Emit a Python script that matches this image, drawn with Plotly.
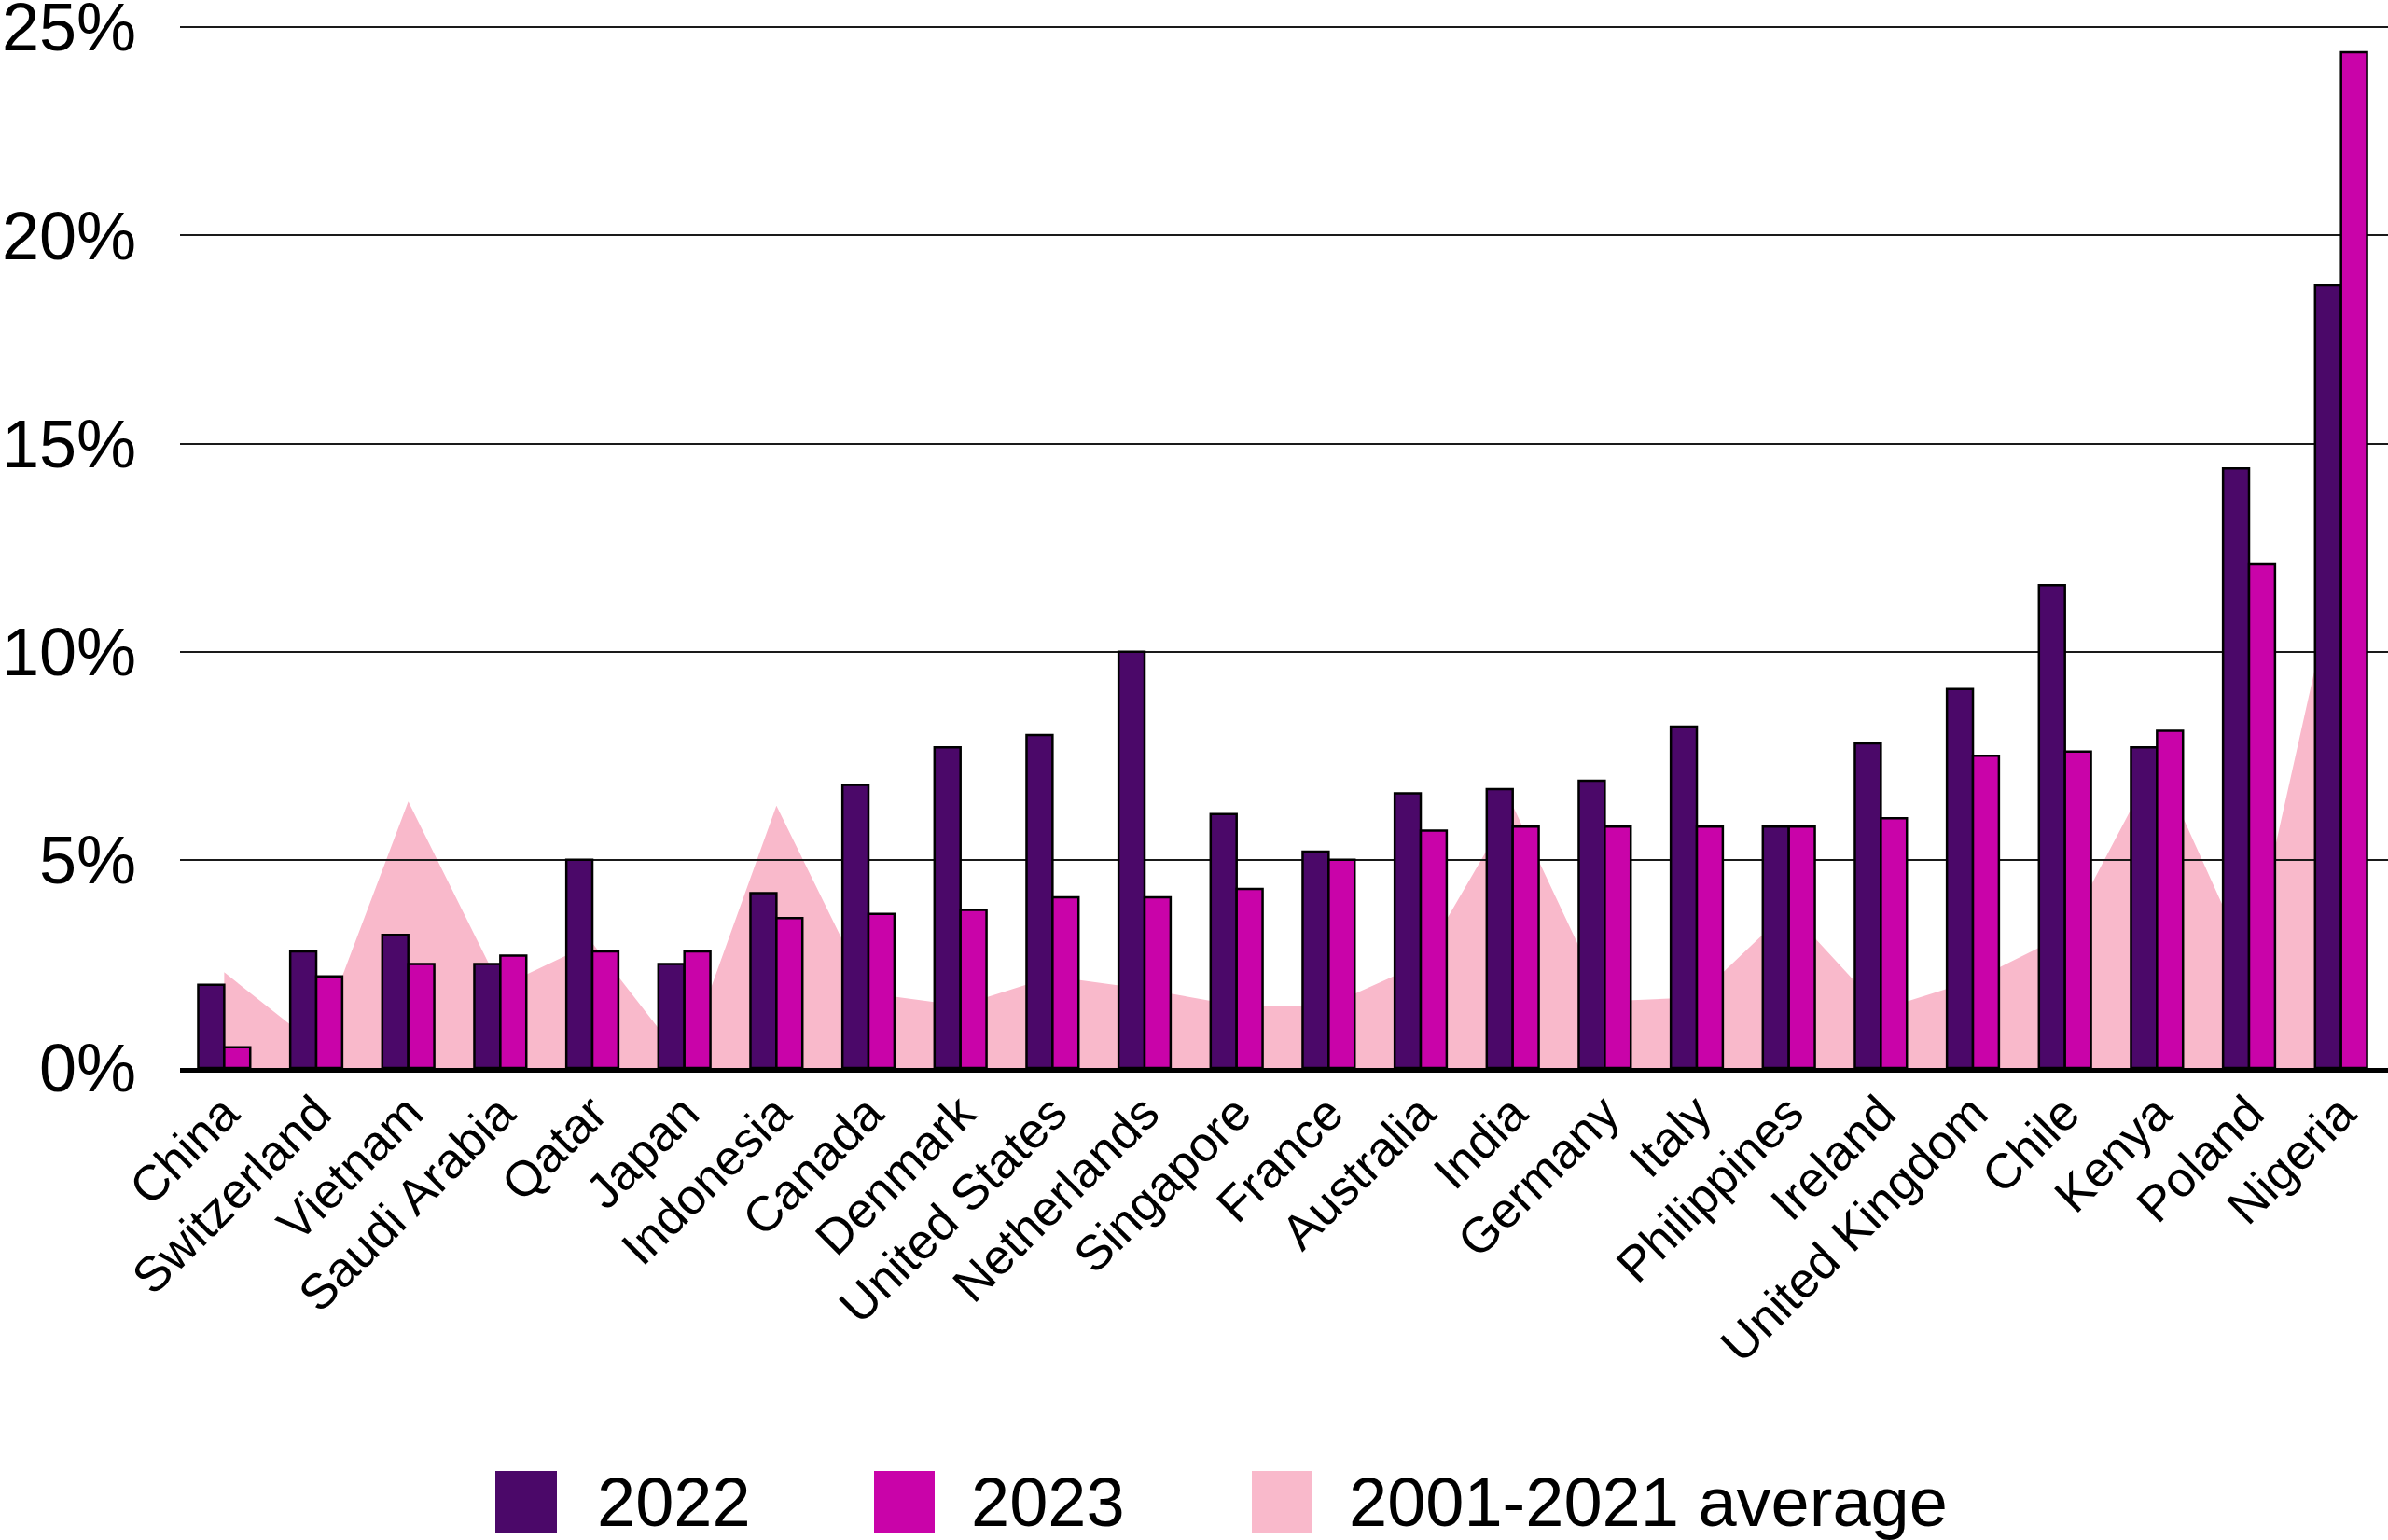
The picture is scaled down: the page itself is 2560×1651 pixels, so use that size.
import plotly.graph_objects as go

# ---------------- data ----------------
countries = ["China", "Switzerland", "Vietnam", "Saudi Arabia", "Qatar", "Japan",
             "Indonesia", "Canada", "Denmark", "United States", "Netherlands",
             "Singapore", "France", "Australia", "India", "Germany", "Italy",
             "Philippines", "Ireland", "United Kingdom", "Chile", "Kenya",
             "Poland", "Nigeria"]
rate_2022 = [2.0, 2.8, 3.2, 2.5, 5.0, 2.5, 4.2, 6.8, 7.7, 8.0, 10.0, 6.1,
             5.2, 6.6, 6.7, 6.9, 8.2, 5.8, 7.8, 9.1, 11.6, 7.7, 14.4, 18.8]
rate_2023 = [0.5, 2.2, 2.5, 2.7, 2.8, 2.8, 3.6, 3.7, 3.8, 4.1, 4.1, 4.3,
             5.0, 5.7, 5.8, 5.8, 5.8, 5.8, 6.0, 7.5, 7.6, 8.1, 12.1, 24.4]
avg_2001_2021 = [2.3, 0.55, 6.4, 1.95, 3.0, 0.15, 6.3, 1.8, 1.5, 2.2, 1.9, 1.5,
                 1.5, 2.5, 6.3, 1.6, 1.7, 3.8, 1.4, 2.1, 3.2, 7.4, 2.5, 12.4]
y_tick_values = [0, 5, 10, 15, 20, 25]
y_tick_labels = ["0%", "5%", "10%", "15%", "20%", "25%"]
legend_labels = ["2022", "2023", "2001-2021 average"]

# ---------------- style ----------------
C2022 = "#4B0869"
C2023 = "#C903A9"
CAVG = "#F9B9CB"
FONT = "Liberation Sans"

W, H = 2560, 1651
ML, MR, MT, MB = 193, 0, 27, 506


def px_x(px):
    return (px - ML) / (W - ML - MR)


def px_y(py):
    return (H - MB - py) / (H - MT - MB)


x_range = [-0.48, 23.51]
y_range = [0, 25.05]

fig = go.Figure()

# area (bottom subplot)
fig.add_trace(go.Scatter(
    x=countries, y=avg_2001_2021, mode="none", fill="tozeroy",
    fillcolor=CAVG, name=legend_labels[2], showlegend=False,
    xaxis="x", yaxis="y", hoverinfo="skip"))

# bars (top subplot)
fig.add_trace(go.Bar(
    x=countries, y=rate_2022, name=legend_labels[0], showlegend=False,
    marker=dict(color=C2022, line=dict(color="black", width=2.5)),
    xaxis="x2", yaxis="y2"))
fig.add_trace(go.Bar(
    x=countries, y=rate_2023, name=legend_labels[1], showlegend=False,
    marker=dict(color=C2023, line=dict(color="black", width=2.5)),
    xaxis="x2", yaxis="y2"))

# custom legend
swatches = [(531, 597, C2022), (937, 1002, C2023), (1342, 1407, CAVG)]
text_left = [638, 1039, 1444]
shapes = []
annotations = []
for (x0, x1, col), tx, lab in zip(swatches, text_left, legend_labels):
    shapes.append(dict(type="rect", xref="paper", yref="paper",
                       x0=px_x(x0), x1=px_x(x1), y0=px_y(1643), y1=px_y(1577),
                       fillcolor=col, line=dict(width=0)))
    annotations.append(dict(xref="paper", yref="paper", x=px_x(tx), y=px_y(1610),
                            xanchor="left", yanchor="middle", showarrow=False,
                            text=lab, font=dict(family=FONT, size=74, color="black")))

fig.update_layout(
    width=W, height=H,
    margin=dict(l=ML, r=MR, t=MT, b=MB, pad=0, autoexpand=False),
    paper_bgcolor="white", plot_bgcolor="rgba(0,0,0,0)",
    font=dict(family=FONT, color="black"),
    barmode="group", bargap=0.435, bargroupgap=0,
    showlegend=False,
    shapes=shapes, annotations=annotations,
    xaxis=dict(domain=[0, 1], anchor="y", range=x_range, type="category",
               categoryorder="array", categoryarray=countries, automargin=False,
               showticklabels=False, showgrid=False, zeroline=False, showline=False),
    yaxis=dict(domain=[0, 1], anchor="x", range=y_range, automargin=False,
               showticklabels=False, showgrid=False, zeroline=False, showline=False),
    xaxis2=dict(domain=[0, 1], anchor="y2", range=x_range, type="category",
                categoryorder="array", categoryarray=countries, automargin=False,
                tickangle=-45, tickfont=dict(family=FONT, size=53, color="black"),
                showgrid=False, zeroline=False, showline=True, linewidth=5,
                linecolor="black", ticks="", ticklabelstandoff=-9),
    yaxis2=dict(domain=[0, 1], anchor="x2", range=y_range, automargin=False,
                tickvals=y_tick_values, ticktext=y_tick_labels,
                tickfont=dict(family=FONT, size=72, color="black"),
                ticklabeloverflow="allow",
                showgrid=True, gridcolor="#1a1a1a", gridwidth=2,
                zeroline=False, showline=False, ticks="", ticklabelstandoff=46),
)

fig.write_html("out.html",
               config={"displayModeBar": False},
               post_script="document.body.style.margin='0';"
                           "document.body.style.overflow='hidden';")
